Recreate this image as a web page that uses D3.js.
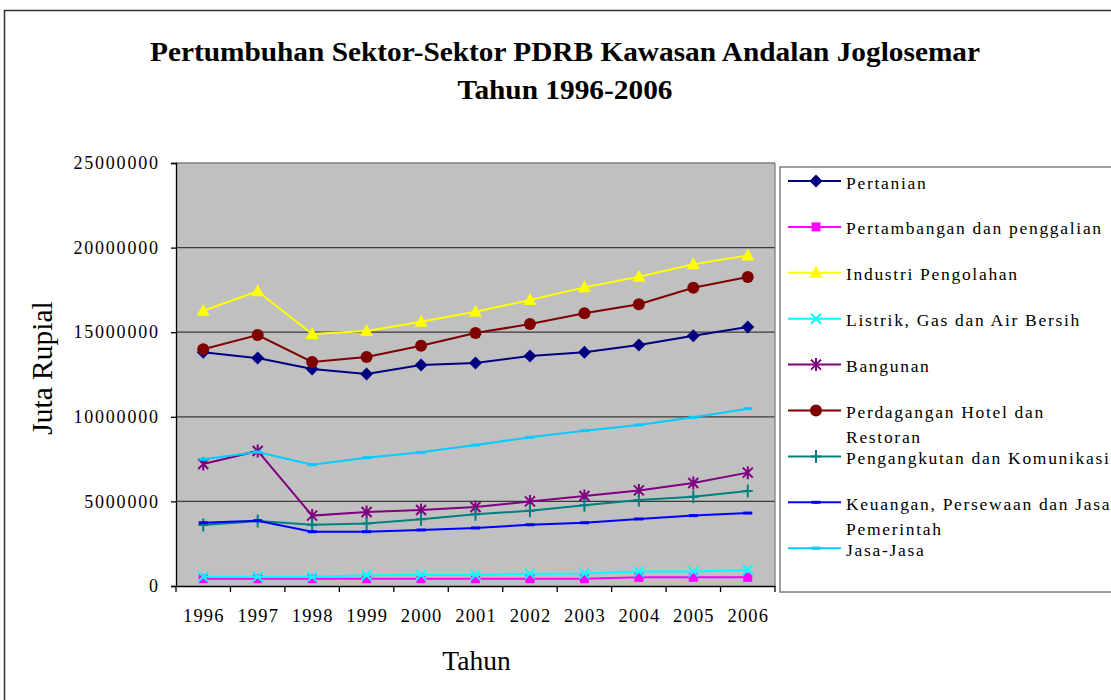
<!DOCTYPE html>
<html>
<head>
<meta charset="utf-8">
<script src="https://cdn.jsdelivr.net/npm/d3@7"></script>
<style>
  body { margin: 0; background: #fff; }
  svg { display: block; }
  text { font-family: "Liberation Serif", "Times New Roman", serif; fill: #000; }
</style>
</head>
<body>
<svg id="chart"></svg>
<script>
// data
const years = ['1996', '1997', '1998', '1999', '2000', '2001', '2002', '2003', '2004', '2005', '2006']
const yTicks = [0, 5000000, 10000000, 15000000, 20000000, 25000000]

const sectorNames = [
  'Pertanian',
  'Pertambangan dan penggalian',
  'Industri Pengolahan',
  'Listrik, Gas dan Air Bersih',
  'Bangunan',
  'Perdagangan Hotel dan|Restoran',
  'Pengangkutan dan Komunikasi',
  'Keuangan, Persewaan dan Jasa|Pemerintah',
  'Jasa-Jasa'
]
const sectorColors = ['#000080', '#ff00ff', '#ffff00', '#00ffff', '#800080', '#800000', '#008080', '#0000ff', '#00ccff']
const sectorShapes = ['diamond', 'square', 'triangle', 'x', 'star', 'circle', 'plus', 'dash', 'dash']

const pertanian    = [13810000, 13470000, 12830000, 12530000, 13060000, 13180000, 13590000, 13810000, 14240000, 14790000, 15310000]
const pertambangan = [430000, 430000, 430000, 430000, 430000, 430000, 430000, 430000, 510000, 510000, 510000]
const industri     = [16270000, 17420000, 14890000, 15070000, 15620000, 16210000, 16900000, 17650000, 18280000, 19010000, 19540000]
const listrik      = [550000, 550000, 550000, 640000, 650000, 650000, 730000, 740000, 850000, 850000, 950000]
const bangunan     = [7210000, 7980000, 4160000, 4370000, 4490000, 4670000, 5000000, 5320000, 5650000, 6090000, 6700000]
const perdagangan  = [13990000, 14830000, 13240000, 13530000, 14200000, 14950000, 15480000, 16120000, 16650000, 17630000, 18260000]
const pengangkutan = [3600000, 3840000, 3620000, 3700000, 3940000, 4240000, 4450000, 4770000, 5080000, 5280000, 5610000]
const keuangan     = [3740000, 3860000, 3210000, 3210000, 3310000, 3430000, 3620000, 3740000, 3960000, 4160000, 4310000]
const jasa         = [7490000, 7920000, 7170000, 7580000, 7900000, 8330000, 8790000, 9180000, 9520000, 9970000, 10480000]

const seriesValues = [pertanian, pertambangan, industri, listrik, bangunan, perdagangan, pengangkutan, keuangan, jasa]

const series = sectorNames.map((name, i) => ({
  name: name,
  color: sectorColors[i],
  shape: sectorShapes[i],
  values: seriesValues[i]
}))

const width = 1111
const height = 700
const plot = { left: 176, top: 163, right: 775, bottom: 586 }

const svg = d3.select('svg#chart')
  .attr('width', width)
  .attr('height', height)

// spread glyphs a bit, like the original's loose Times text
function spaced(sel, gap) {
  sel.each(function() {
    const n = this.textContent.length
    const w = this.getComputedTextLength()
    d3.select(this)
      .attr('textLength', w + (n - 1) * gap)
      .attr('lengthAdjust', 'spacing')
  })
}

// outer chart frame, runs off the right and bottom like the original
svg.append('rect')
  .attr('x', 4.5).attr('y', 10.5)
  .attr('width', 1300).attr('height', 900)
  .attr('fill', '#fff')
  .attr('stroke', '#333')
  .attr('stroke-width', 1.5)

svg.append('text')
  .attr('x', 565).attr('y', 61)
  .attr('text-anchor', 'middle')
  .attr('font-size', 27).attr('font-weight', 'bold')
  .attr('textLength', 830).attr('lengthAdjust', 'spacingAndGlyphs')
  .text('Pertumbuhan Sektor-Sektor PDRB Kawasan Andalan Joglosemar')

svg.append('text')
  .attr('x', 565).attr('y', 99)
  .attr('text-anchor', 'middle')
  .attr('font-size', 27).attr('font-weight', 'bold')
  .attr('textLength', 215).attr('lengthAdjust', 'spacingAndGlyphs')
  .text('Tahun 1996-2006')

const x = d3.scaleBand()
  .domain(years)
  .range([plot.left, plot.right])
  .padding(0)

const y = d3.scaleLinear()
  .domain([0, 25000000])
  .range([plot.bottom, plot.top])

const cx = d => x(d) + x.bandwidth() / 2

// plot background
svg.append('rect')
  .attr('x', plot.left).attr('y', plot.top)
  .attr('width', plot.right - plot.left)
  .attr('height', plot.bottom - plot.top)
  .attr('fill', '#c0c0c0')

// gridlines
svg.append('g')
  .selectAll('line')
  .data(yTicks.slice(1))
  .enter().append('line')
  .attr('x1', plot.left).attr('x2', plot.right)
  .attr('y1', d => y(d)).attr('y2', d => y(d))
  .attr('stroke', d => d === 25000000 ? '#808080' : '#3a3a3a')
  .attr('stroke-width', 1.3)

svg.append('line')
  .attr('x1', plot.right).attr('x2', plot.right)
  .attr('y1', plot.top).attr('y2', plot.bottom)
  .attr('stroke', '#808080')
  .attr('stroke-width', 1.3)

// y axis
const yAxis = svg.append('g')
  .attr('transform', 'translate(' + plot.left + ',0)')
  .call(d3.axisLeft(y).tickValues(yTicks).tickFormat(d3.format('d')).tickSize(5).tickPadding(13))
  .attr('font-family', null)
  .attr('font-size', null)
yAxis.select('.domain').attr('stroke', '#000').attr('stroke-width', 1.3)
yAxis.selectAll('.tick line').attr('stroke', '#000').attr('stroke-width', 1.3)
yAxis.selectAll('.tick text')
  .attr('font-size', 18)
  .attr('fill', '#000')
  .call(spaced, 1.8)

// x axis: labels centered, ticks on category boundaries
const xAxis = svg.append('g')
  .attr('transform', 'translate(0,' + plot.bottom + ')')
  .call(d3.axisBottom(x).tickSize(0).tickPadding(23))
  .attr('font-family', null)
  .attr('font-size', null)
xAxis.select('.domain').attr('stroke', '#000').attr('stroke-width', 1.3)
xAxis.selectAll('.tick text')
  .attr('font-size', 18.5)
  .attr('fill', '#000')
  .call(spaced, 1.2)

svg.append('g')
  .selectAll('line')
  .data(years.concat(['end']))
  .enter().append('line')
  .attr('x1', (d, i) => i < years.length ? x(d) : plot.right)
  .attr('x2', (d, i) => i < years.length ? x(d) : plot.right)
  .attr('y1', plot.bottom).attr('y2', plot.bottom + 6)
  .attr('stroke', '#000')
  .attr('stroke-width', 1.3)

svg.append('text')
  .attr('transform', 'translate(52,368) rotate(-90)')
  .attr('text-anchor', 'middle')
  .attr('font-size', 29.5)
  .text('Juta Rupial')

svg.append('text')
  .attr('x', (plot.left + plot.right) / 2 + 1).attr('y', 670)
  .attr('text-anchor', 'middle')
  .attr('font-size', 27.5)
  .text('Tahun')

// marker shapes
function markerPath(shape) {
  switch (shape) {
    case 'diamond': return 'M0,-6.5L6.5,0L0,6.5L-6.5,0Z'
    case 'square': return 'M-4.5,-4.5H4.5V4.5H-4.5Z'
    case 'triangle': return 'M0,-7L6.5,5L-6.5,5Z'
    case 'circle': return 'M-6,0A6,6 0 1,0 6,0A6,6 0 1,0 -6,0Z'
    case 'x': return 'M-5,-5L5,5M5,-5L-5,5'
    case 'star': return 'M-5,-5L5,5M5,-5L-5,5M0,-6.5V6.5'
    case 'plus': return 'M0,-6.5V6.5M-5,0H5'
    case 'dash': return 'M-4.5,-1.5H4.5V1.5H-4.5Z'
  }
}
const filled = s => ['diamond', 'square', 'triangle', 'circle', 'dash'].includes(s)

const line = d3.line()
  .x((d, i) => cx(years[i]))
  .y(d => y(d))

const seriesG = svg.append('g')
  .selectAll('g')
  .data(series)
  .enter().append('g')

seriesG.append('path')
  .attr('d', d => line(d.values))
  .attr('fill', 'none')
  .attr('stroke', d => d.color)
  .attr('stroke-width', 2)

seriesG.each(function(s) {
  d3.select(this).selectAll('path.mk')
    .data(s.values)
    .enter().append('path')
    .attr('class', 'mk')
    .attr('transform', (d, i) => 'translate(' + cx(years[i]) + ',' + y(d) + ')')
    .attr('d', markerPath(s.shape))
    .attr('fill', filled(s.shape) ? s.color : 'none')
    .attr('stroke', s.color)
    .attr('stroke-width', filled(s.shape) ? 0 : 2)
})

// legend
const legend = svg.append('g')
legend.append('rect')
  .attr('x', 780).attr('y', 167)
  .attr('width', 400).attr('height', 425)
  .attr('fill', '#fff')
  .attr('stroke', '#808080')
  .attr('stroke-width', 1.5)

const item = legend.selectAll('g.item')
  .data(series)
  .enter().append('g')
  .attr('class', 'item')
  .attr('transform', (d, i) => 'translate(0,' + (181 + i * 45.9) + ')')

item.append('line')
  .attr('x1', 788).attr('x2', 841)
  .attr('stroke', d => d.color)
  .attr('stroke-width', 2)

item.append('path')
  .attr('transform', 'translate(816,0)')
  .attr('d', d => markerPath(d.shape))
  .attr('fill', d => filled(d.shape) ? d.color : 'none')
  .attr('stroke', d => d.color)
  .attr('stroke-width', d => filled(d.shape) ? 0 : 2)

item.selectAll('text')
  .data(d => d.name.split('|'))
  .enter().append('text')
  .attr('x', 846)
  .attr('y', (d, i) => 7.5 + i * 25)
  .attr('font-size', 17.5)
  .text(d => d)
  .call(spaced, 1.7)
</script>
</body>
</html>
